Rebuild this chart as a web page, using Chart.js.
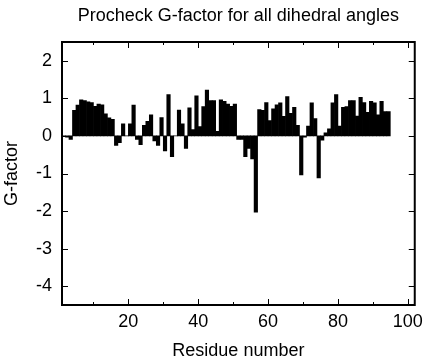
<!DOCTYPE html>
<html>
<head>
<meta charset="utf-8">
<script src="https://cdn.jsdelivr.net/npm/chart.js@4.4.1/dist/chart.umd.min.js"></script>
<style>
  html, body { margin: 0; padding: 0; background: #fff; }
</style>
</head>
<body>
<canvas id="gfactor_chart" width="429" height="360"></canvas>
<script>
const residues = [
  1, 2, 3, 4, 5, 6, 7, 8, 9, 10,
  11, 12, 13, 14, 15, 16, 17, 18, 19, 20,
  21, 22, 23, 24, 25, 26, 27, 28, 29, 30,
  31, 32, 33, 34, 35, 36, 37, 38, 39, 40,
  41, 42, 43, 44, 45, 46, 47, 48, 49, 50,
  51, 52, 53, 54, 55, 56, 57, 58, 59, 60,
  61, 62, 63, 64, 65, 66, 67, 68, 69, 70,
  71, 72, 73, 74, 75, 76, 77, 78, 79, 80,
  81, 82, 83, 84, 85, 86, 87, 88, 89, 90,
  91, 92, 93, 94
];
const gFactor = [
  -0.02, -0.03, -0.09, 0.68, 0.82, 0.96, 0.94, 0.91, 0.89, 0.79,
  0.85, 0.83, 0.59, 0.48, 0.44, -0.25, -0.18, 0.32, 0.00, 0.32,
  0.82, -0.09, -0.23, 0.28, 0.39, 0.56, -0.13, -0.25, 0.49, -0.40,
  1.10, -0.55, 0.00, 0.69, 0.32, -0.33, 0.75, 0.17, 1.07, 0.25,
  0.78, 1.22, 0.94, 0.94, 0.12, 0.96, 0.92, 0.85, 0.79, 0.85,
  -0.09, -0.09, -0.55, -0.33, -0.61, -2.03, 0.70, 0.68, 0.89, 0.41,
  0.72, 0.83, 0.88, 0.52, 1.05, 0.60, 0.76, 0.28, -1.04, -0.03,
  0.26, 0.88, 0.46, -1.12, -0.11, 0.08, 0.19, 0.88, 1.10, 0.26,
  0.76, 0.78, 0.94, 0.94, 0.53, 1.03, 0.89, 0.63, 0.92, 0.88,
  0.56, 0.92, 0.65, 0.65
];
const xTicks = [20, 40, 60, 80, 100];
const xMinorTicks = [10, 30, 50, 70, 90];
const yTicks = [2, 1, 0, -1, -2, -3, -4];
const chartTitle = 'Procheck G-factor for all dihedral angles';

const FONT = "'Liberation Sans', Arial, Helvetica, sans-serif";

// gnuplot style frame with inward ticks on all four sides,
// title centred over the plot area rather than the whole canvas
const frame = {
  id: 'frame',
  afterDatasetsDraw(chart) {
    const { ctx, chartArea: a, scales: { x, y } } = chart;
    ctx.save();
    ctx.strokeStyle = '#000';
    ctx.lineWidth = 1;
    ctx.beginPath();
    yTicks.forEach(v => {
      const py = Math.round(y.getPixelForValue(v)) + 0.5;
      ctx.moveTo(a.left, py); ctx.lineTo(a.left + 6, py);
      ctx.moveTo(a.right, py); ctx.lineTo(a.right - 6, py);
    });
    xTicks.forEach(v => {
      const px = Math.round(x.getPixelForValue(v)) + 0.5;
      ctx.moveTo(px, a.bottom); ctx.lineTo(px, a.bottom - 6);
      ctx.moveTo(px, a.top); ctx.lineTo(px, a.top + 6);
    });
    xMinorTicks.forEach(v => {
      const px = Math.round(x.getPixelForValue(v)) + 0.5;
      ctx.moveTo(px, a.bottom); ctx.lineTo(px, a.bottom - 3);
      ctx.moveTo(px, a.top); ctx.lineTo(px, a.top + 3);
    });
    ctx.stroke();
    ctx.lineWidth = 2;
    ctx.strokeRect(a.left, a.top, a.right - a.left, a.bottom - a.top);

    ctx.fillStyle = '#000';
    ctx.font = '18px ' + FONT;
    ctx.textAlign = 'center';
    ctx.textBaseline = 'middle';
    ctx.fillText(chartTitle, (a.left + a.right) / 2, 15.8);
    ctx.restore();
  }
};

const ctx = document.getElementById('gfactor_chart').getContext('2d');
new Chart(ctx, {
  type: 'bar',
  data: {
    datasets: [{
      // each residue is drawn as a step from n to n+1
      data: residues.map((r, i) => ({ x: r + 0.5, y: gFactor[i] })),
      backgroundColor: '#000',
      borderWidth: 0,
      barPercentage: 1,
      categoryPercentage: 1
    }]
  },
  options: {
    responsive: false,
    animation: false,
    layout: { padding: { left: 0, right: 11, top: 42, bottom: 0 } },
    plugins: {
      legend: { display: false },
      tooltip: { enabled: false },
      title: { display: false }
    },
    scales: {
      x: {
        type: 'linear',
        min: 1,
        max: 102,
        offset: false,
        grid: { display: false, drawTicks: false },
        border: { display: false },
        afterBuildTicks: s => { s.ticks = xTicks.map(v => ({ value: v })); },
        afterFit: s => { s.height = 55; },
        ticks: { color: '#000', font: { family: FONT, size: 18 }, padding: 6, maxRotation: 0, autoSkip: false },
        title: {
          display: true,
          text: 'Residue number',
          color: '#000',
          font: { family: FONT, size: 18, lineHeight: 1 },
          padding: { top: 0, bottom: 0 }
        }
      },
      y: {
        min: -4.5,
        max: 2.5,
        grid: { display: false, drawTicks: false },
        border: { display: false },
        afterBuildTicks: s => { s.ticks = yTicks.map(v => ({ value: v })); },
        afterFit: s => { s.width = 62; },
        ticks: { color: '#000', font: { family: FONT, size: 18 }, padding: 10 },
        title: {
          display: true,
          text: 'G-factor',
          color: '#000',
          font: { family: FONT, size: 18, lineHeight: 1.2 },
          padding: { top: 1, bottom: 0 }
        }
      }
    }
  },
  plugins: [frame]
});
</script>
</body>
</html>
